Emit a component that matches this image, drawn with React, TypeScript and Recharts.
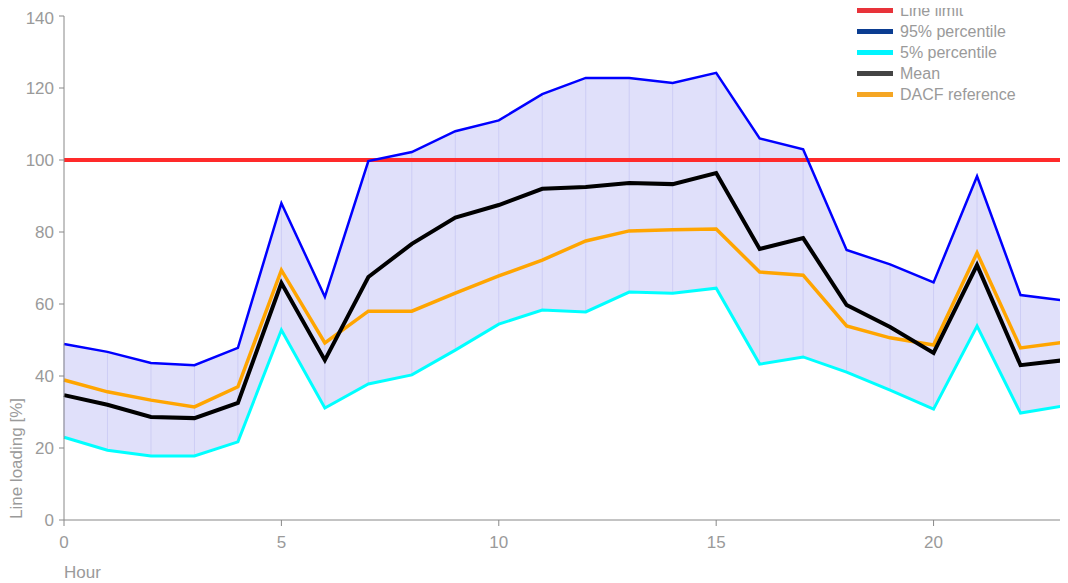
import { ComposedChart, Area, Line, XAxis, YAxis, ReferenceLine } from "recharts"

const hours = [0, 1, 2, 3, 4, 5, 6, 7, 8, 9, 10, 11, 12, 13, 14, 15, 16, 17, 18, 19, 20, 21, 22, 23]
const p95 = [48.9, 46.7, 43.6, 43, 47.8, 88, 62, 99.7, 102.2, 108, 111, 118.3, 122.8, 122.8, 121.4, 124.2, 106, 103, 75, 71, 66, 95.5, 62.5, 61]
const p5 = [23, 19.4, 17.8, 17.8, 21.7, 52.8, 31.1, 37.8, 40.3, 47.2, 54.4, 58.3, 57.8, 63.3, 63, 64.4, 43.3, 45.3, 41.1, 36.1, 30.8, 53.9, 29.7, 31.7]
const mean = [34.7, 32, 28.6, 28.3, 32.5, 65.8, 44.4, 67.5, 76.7, 84, 87.5, 92, 92.5, 93.6, 93.3, 96.4, 75.3, 78.3, 59.7, 53.6, 46.4, 70.8, 43, 44.4]
const dacf = [38.9, 35.6, 33.3, 31.4, 37, 69.4, 49.2, 58, 58, 63, 67.8, 72.2, 77.5, 80.3, 80.6, 80.8, 68.9, 68, 53.9, 50.6, 48.6, 74.2, 47.8, 49.4]
const lineLimit = 100
const yTicks = [0, 20, 40, 60, 80, 100, 120, 140]
const xTicks = [0, 5, 10, 15, 20]

const legendItems = [
  { label: "Line limit", color: "#e8333a" },
  { label: "95% percentile", color: "#0b3d91" },
  { label: "5% percentile", color: "#00f5ff" },
  { label: "Mean", color: "#444444" },
  { label: "DACF reference", color: "#f5a623" },
]

const data = hours.map((h, i) => ({
  hour: h,
  p95: p95[i],
  p5: p5[i],
  mean: mean[i],
  dacf: dacf[i],
  band: [p5[i], p95[i]],
}))

const FONT = "'Liberation Sans', Arial, sans-serif"
const GREY = "#9a9a9a"

function ChartLegend() {
  return (
    <div
      style={{
        position: "absolute",
        top: -8,
        left: 849,
        zIndex: 5,
        fontFamily: FONT,
        fontSize: 16,
        lineHeight: "21px",
        color: GREY,
      }}
    >
      {legendItems.map((item) => (
        <div key={item.label} style={{ display: "flex", alignItems: "center", height: 21 }}>
          <span style={{ width: 36, height: 5, background: item.color, marginRight: 7 }} />
          <span>{item.label}</span>
        </div>
      ))}
    </div>
  )
}

export default function App() {
  return (
    <div style={{ position: "relative", width: 1060, height: 575 }}>
      <ComposedChart width={1060} height={575} data={data} margin={{ top: 8, right: 4, left: 0, bottom: 0 }}>
        <XAxis
          dataKey="hour"
          type="number"
          domain={[0, 23]}
          ticks={xTicks}
          stroke="#888"
          tick={{ fill: GREY, fontSize: 17, fontFamily: FONT }}
          tickSize={6}
          tickMargin={10}
          height={63}
          label={({ viewBox }: any) => (
            <text x={viewBox.x} y={viewBox.y + 58} fill={GREY} fontSize={17} fontFamily={FONT}>
              Hour
            </text>
          )}
        />
        <YAxis
          domain={[0, 140]}
          ticks={yTicks}
          width={56}
          stroke="#888"
          tick={{ fill: GREY, fontSize: 17, fontFamily: FONT }}
          tickSize={5}
          tickMargin={5}
          label={({ viewBox }: any) => (
            <text
              x={14}
              y={viewBox.y + viewBox.height - 1}
              transform={`rotate(-90, 14, ${viewBox.y + viewBox.height - 1})`}
              fill={GREY}
              fontSize={17}
              fontFamily={FONT}
              textAnchor="start"
            >
              Line loading [%]
            </text>
          )}
        />
        <Area
          dataKey="band"
          type="linear"
          stroke="none"
          fill="rgb(224,224,250)"
          fillOpacity={1}
          isAnimationActive={false}
          legendType="none"
        />
        {data.map((d) => (
          <ReferenceLine
            key={`seg-${d.hour}`}
            segment={[
              { x: d.hour, y: d.p5 },
              { x: d.hour, y: d.p95 },
            ]}
            stroke="rgb(205,205,245)"
            strokeWidth={1}
          />
        ))}
        <ReferenceLine y={lineLimit} stroke="#ff2a2a" strokeWidth={4} />
        <Line dataKey="p95" type="linear" stroke="#0000ff" strokeWidth={2.5} dot={false} isAnimationActive={false} />
        <Line dataKey="p5" type="linear" stroke="#00ffff" strokeWidth={3} dot={false} isAnimationActive={false} />
        <Line dataKey="dacf" type="linear" stroke="#ffa500" strokeWidth={3.5} dot={false} isAnimationActive={false} />
        <Line dataKey="mean" type="linear" stroke="#000000" strokeWidth={4} dot={false} isAnimationActive={false} />
      </ComposedChart>
      <ChartLegend />
    </div>
  )
}
